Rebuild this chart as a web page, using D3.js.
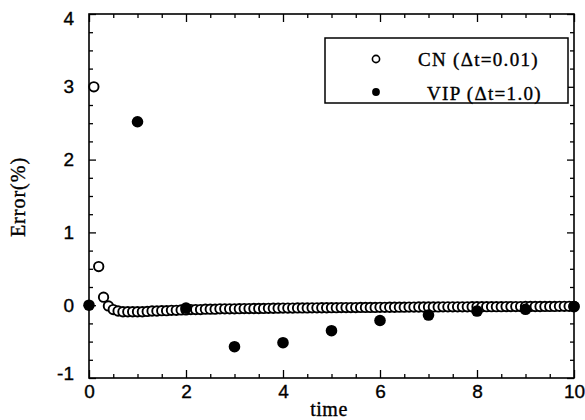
<!DOCTYPE html>
<html>
<head>
<meta charset="utf-8">
<script src="https://cdn.jsdelivr.net/npm/d3@7"></script>
<style>
  body { margin: 0; background: #fff; }
  svg { display: block; font-family: "Liberation Serif", "DejaVu Serif", serif; }
  .axis path { display: none; }
  .axis line { stroke: #000; stroke-width: 1.3; }
  .axis text { font-size: 19px; fill: #000; stroke: #000; stroke-width: 0.35; }
  .title { fill: #000; stroke: #000; stroke-width: 0.35; }
</style>
</head>
<body>
<div id="chart"></div>
<script>
// CN (dt = 0.01), plotted every 0.1
const cnTime = [
  0.1, 0.2, 0.3, 0.4, 0.5, 0.6, 0.7, 0.8, 0.9, 1.0,
  1.1, 1.2, 1.3, 1.4, 1.5, 1.6, 1.7, 1.8, 1.9, 2.0,
  2.1, 2.2, 2.3, 2.4, 2.5, 2.6, 2.7, 2.8, 2.9, 3.0,
  3.1, 3.2, 3.3, 3.4, 3.5, 3.6, 3.7, 3.8, 3.9, 4.0,
  4.1, 4.2, 4.3, 4.4, 4.5, 4.6, 4.7, 4.8, 4.9, 5.0,
  5.1, 5.2, 5.3, 5.4, 5.5, 5.6, 5.7, 5.8, 5.9, 6.0,
  6.1, 6.2, 6.3, 6.4, 6.5, 6.6, 6.7, 6.8, 6.9, 7.0,
  7.1, 7.2, 7.3, 7.4, 7.5, 7.6, 7.7, 7.8, 7.9, 8.0,
  8.1, 8.2, 8.3, 8.4, 8.5, 8.6, 8.7, 8.8, 8.9, 9.0,
  9.1, 9.2, 9.3, 9.4, 9.5, 9.6, 9.7, 9.8, 9.9, 10.0
];
const cnError = [
  3.00, 0.53, 0.11, -0.01, -0.06, -0.08, -0.09, -0.09, -0.09, -0.09,
  -0.09, -0.085, -0.08, -0.08, -0.075, -0.075, -0.07, -0.07, -0.065, -0.065,
  -0.06, -0.06, -0.06, -0.055, -0.055, -0.055, -0.05, -0.05, -0.05, -0.05,
  -0.048, -0.047, -0.046, -0.045, -0.045, -0.044, -0.043, -0.042, -0.041, -0.04,
  -0.04, -0.039, -0.038, -0.038, -0.037, -0.036, -0.036, -0.035, -0.035, -0.034,
  -0.034, -0.033, -0.033, -0.032, -0.032, -0.031, -0.031, -0.03, -0.03, -0.029,
  -0.029, -0.028, -0.028, -0.027, -0.027, -0.026, -0.026, -0.025, -0.025, -0.025,
  -0.024, -0.024, -0.023, -0.023, -0.023, -0.022, -0.022, -0.022, -0.021, -0.021,
  -0.021, -0.02, -0.02, -0.02, -0.02, -0.019, -0.019, -0.019, -0.019, -0.018,
  -0.018, -0.018, -0.018, -0.017, -0.017, -0.017, -0.016, -0.016, -0.016, -0.016
];

// VIP (dt = 1.0)
const vipTime = [0, 1, 2, 3, 4, 5, 6, 7, 8, 9, 10];
const vipError = [0.0, 2.52, -0.04, -0.57, -0.515, -0.35, -0.21, -0.135, -0.08, -0.056, -0.02];

const xMajorTicks = [0, 2, 4, 6, 8, 10];
const xMinorTicks = [0.5, 1, 1.5, 2.5, 3, 3.5, 4.5, 5, 5.5, 6.5, 7, 7.5, 8.5, 9, 9.5];
const yMajorTicks = [-1, 0, 1, 2, 3, 4];
const yMinorTicks = [-0.75, -0.5, -0.25, 0.25, 0.5, 0.75, 1.25, 1.5, 1.75,
  2.25, 2.5, 2.75, 3.25, 3.5, 3.75];

const legendLabels = ['CN (\u0394t=0.01)', 'VIP (\u0394t=1.0)'];

const width = 585;
const height = 420;
const margin = { top: 14, right: 11, bottom: 42, left: 89 };

const svg = d3.select('#chart')
  .append('svg')
  .attr('width', width)
  .attr('height', height);

const xScale = d3.scaleLinear().domain([0, 10]).range([margin.left, width - margin.right]);
const yScale = d3.scaleLinear().domain([-1, 4]).range([height - margin.bottom, margin.top]);

const plotW = width - margin.left - margin.right;
const plotH = height - margin.top - margin.bottom;

// frame
svg.append('rect')
  .attr('x', margin.left)
  .attr('y', margin.top)
  .attr('width', plotW)
  .attr('height', plotH)
  .attr('fill', 'none')
  .attr('stroke', '#000')
  .attr('stroke-width', 1.6);

// ticks on all four sides, pointing inward
function addAxis(axis, tx, ty) {
  return svg.append('g')
    .attr('class', 'axis')
    .attr('transform', `translate(${tx},${ty})`)
    .call(axis.tickSizeOuter(0));
}

const bottomY = height - margin.bottom;
const rightX = width - margin.right;
const plain = d => String(d);

addAxis(d3.axisBottom(xScale).tickValues(xMajorTicks).tickSize(-8).tickPadding(7).tickFormat(plain), 0, bottomY);
addAxis(d3.axisBottom(xScale).tickValues(xMinorTicks).tickSize(-4).tickFormat(''), 0, bottomY);
addAxis(d3.axisTop(xScale).tickValues(xMajorTicks).tickSize(-8).tickFormat(''), 0, margin.top);
addAxis(d3.axisTop(xScale).tickValues(xMinorTicks).tickSize(-4).tickFormat(''), 0, margin.top);

const yLeft = addAxis(d3.axisLeft(yScale).tickValues(yMajorTicks).tickSize(-7).tickPadding(15).tickFormat(plain), margin.left, 0);
// end labels sit slightly inside, as in the original
yLeft.selectAll('.tick text')
  .attr('dy', d => d === 4 ? '0.55em' : d === -1 ? '0.1em' : '0.32em');
addAxis(d3.axisLeft(yScale).tickValues(yMinorTicks).tickSize(-4).tickFormat(''), margin.left, 0);
addAxis(d3.axisRight(yScale).tickValues(yMajorTicks).tickSize(-7).tickFormat(''), rightX, 0);
addAxis(d3.axisRight(yScale).tickValues(yMinorTicks).tickSize(-4).tickFormat(''), rightX, 0);

// axis titles
svg.append('text')
  .attr('class', 'title')
  .attr('x', 329)
  .attr('y', 416)
  .attr('text-anchor', 'middle')
  .attr('font-size', 20)
  .attr('letter-spacing', 0.5)
  .text('time');

svg.append('text')
  .attr('class', 'title')
  .attr('transform', 'translate(25,197) rotate(-90)')
  .attr('text-anchor', 'middle')
  .attr('font-size', 20)
  .attr('letter-spacing', 1)
  .text('Error(%)');

// CN open circles
const cnData = cnTime.map((t, i) => ({ t, e: cnError[i] }));
svg.append('g')
  .selectAll('circle')
  .data(cnData)
  .join('circle')
  .attr('cx', d => xScale(d.t))
  .attr('cy', d => yScale(d.e))
  .attr('r', 4.7)
  .attr('fill', '#fff')
  .attr('stroke', '#000')
  .attr('stroke-width', 1.9);

// VIP filled circles
const vipData = vipTime.map((t, i) => ({ t, e: vipError[i] }));
svg.append('g')
  .selectAll('circle')
  .data(vipData)
  .join('circle')
  .attr('cx', d => xScale(d.t))
  .attr('cy', d => yScale(d.e))
  .attr('r', 5.8)
  .attr('fill', '#000');

// legend
const legend = svg.append('g').attr('transform', 'translate(325,38)');
legend.append('rect')
  .attr('width', 243)
  .attr('height', 65)
  .attr('fill', '#fff')
  .attr('stroke', '#000')
  .attr('stroke-width', 1.5);

legend.append('circle')
  .attr('cx', 51).attr('cy', 21).attr('r', 3.6)
  .attr('fill', '#fff').attr('stroke', '#000').attr('stroke-width', 1.6);
legend.append('circle')
  .attr('cx', 51).attr('cy', 54).attr('r', 3.9)
  .attr('fill', '#000');

legend.selectAll('text.lbl')
  .data(legendLabels)
  .join('text')
  .attr('class', 'lbl title')
  .attr('x', (d, i) => i === 0 ? 93 : 102)
  .attr('y', (d, i) => i === 0 ? 28 : 62)
  .attr('font-size', 19)
  .attr('letter-spacing', 1.3)
  .text(d => d);
</script>
</body>
</html>
